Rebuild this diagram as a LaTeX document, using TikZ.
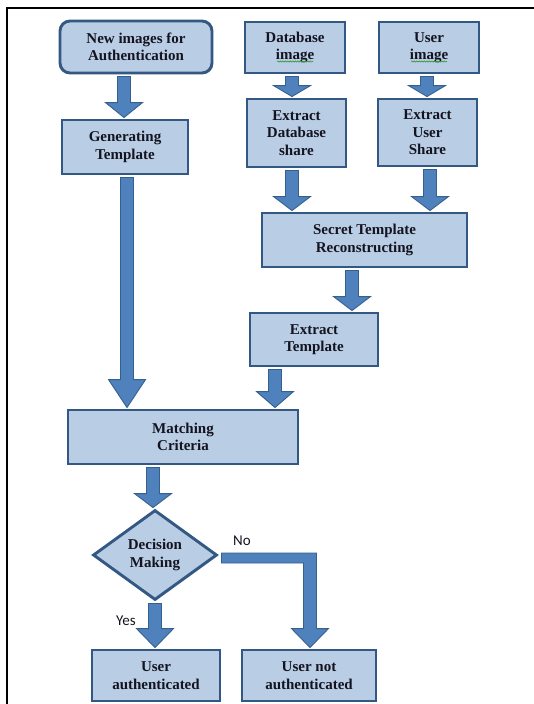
\documentclass[tikz,border=0pt]{standalone}
\usepackage{fontspec}
\setmainfont{Liberation Serif}
\newfontfamily\labelfont{Carlito}
\usetikzlibrary{shapes.geometric,calc,shadows,decorations.pathmorphing}
\definecolor{boxfill}{HTML}{B9CDE5}
\definecolor{boxline}{HTML}{345884}
\definecolor{arrfill}{HTML}{4F81BD}
\definecolor{arrline}{HTML}{35608E}
\definecolor{squig}{HTML}{3A9A3A}
\definecolor{txt}{HTML}{141420}
\tikzset{
  box/.style={draw=boxline, line width=2.9pt, fill=boxfill, align=center, inner sep=0pt,
    font=\fontsize{15}{17.5}\selectfont\bfseries, text=txt,
    drop shadow={shadow xshift=1.2pt, shadow yshift=-1.2pt, opacity=0.3, fill=gray}},
  blockarrow/.style={fill=arrfill, draw=arrline, line width=0.9pt, line join=miter},
  lbl/.style={font=\labelfont\fontsize{15}{17}\selectfont, text=txt, inner sep=0pt},
  squiggle/.style={draw=squig, line width=0.6pt, decorate,
    decoration={snake, amplitude=0.6pt, segment length=2.5pt}},
}
% #1 x position, #2 from anchor, #3 to anchor, #4 head length
\newcommand\blockdown[4]{%
  \path[blockarrow] let \p1=(#2), \p2=(#3) in
    (#1pt-6.5pt,\y1-2pt) -- (#1pt+6.5pt,\y1-2pt) -- (#1pt+6.5pt,\y2+#4pt)
    -- (#1pt+18.5pt,\y2+#4pt) -- (#1pt,\y2+1pt) -- (#1pt-18.5pt,\y2+#4pt)
    -- (#1pt-6.5pt,\y2+#4pt) -- cycle;}
\begin{document}
\begin{tikzpicture}[x=1pt,y=-1pt]
\useasboundingbox (0,0) rectangle (534,704);
\draw[line width=1.8pt] (7,704) -- (7,8) -- (534,8);

\node[box, minimum width=152pt, minimum height=52pt, rounded corners=10pt] (n1) at (136,47) {New images for\\Authentication};
\node[box, minimum width=126pt, minimum height=54pt] (n2) at (125,147) {Generating\\Template};
\node[box, minimum width=100pt, minimum height=51pt] (db) at (295,47.5) {Database\\image};
\node[box, minimum width=100pt, minimum height=51pt] (us) at (429,47.5) {User\\image};
\node[box, minimum width=99pt, minimum height=68pt] (dbs) at (296.5,133) {Extract\\Database\\share};
\node[box, minimum width=99pt, minimum height=67pt] (uss) at (427.5,132.5) {Extract\\User\\Share};
\node[box, minimum width=205pt, minimum height=54pt] (sec) at (364.5,240) {Secret Template\\Reconstructing};
\node[box, minimum width=128pt, minimum height=53pt] (et) at (314,339.5) {Extract\\Template};
\node[box, minimum width=230pt, minimum height=54pt] (mc) at (183,437) {Matching\\Criteria};
\node[box, diamond, aspect=1.4, minimum width=124pt, minimum height=90pt] (dm) at (155,555) {Decision\\Making};
\node[box, minimum width=128pt, minimum height=51pt] (ua) at (156,675.5) {User\\authenticated};
\node[box, minimum width=134pt, minimum height=51pt] (una) at (309,675.5) {User not\\authenticated};

\draw[squiggle] ($(db.center)+(-18,14)$) -- ++(36,0);
\draw[squiggle] ($(us.center)+(-18,14)$) -- ++(36,0);

\blockdown{124}{n1.south}{n2.north}{16}
\blockdown{127}{n2.south}{mc.north}{29}
\blockdown{292}{db.south}{dbs.north}{12}
\blockdown{427}{us.south}{uss.north}{12}
\blockdown{292}{dbs.south}{sec.north}{15}
\blockdown{430}{uss.south}{sec.north}{15}
\blockdown{352}{sec.south}{et.north}{15}
\blockdown{275}{et.south}{mc.north}{17}
\blockdown{153}{mc.south}{dm.north}{15}
\blockdown{155}{dm.south}{ua.north}{20}
\path[blockarrow] let \p1=(dm.east), \p2=(una.north) in
  (\x1+3pt,\y1+2pt) -- (316.5pt,\y1+2pt) -- (316.5pt,\y2+20pt) -- (328.5pt,\y2+20pt)
  -- (310pt,\y2+1pt) -- (291.5pt,\y2+20pt) -- (303.5pt,\y2+20pt) -- (303.5pt,\y1-8pt)
  -- (\x1+3pt,\y1-8pt) -- cycle;

\node[lbl] (no) at (242,541) {No};
\node[lbl] (yes) at (126,621) {Yes};
\end{tikzpicture}
\end{document}
